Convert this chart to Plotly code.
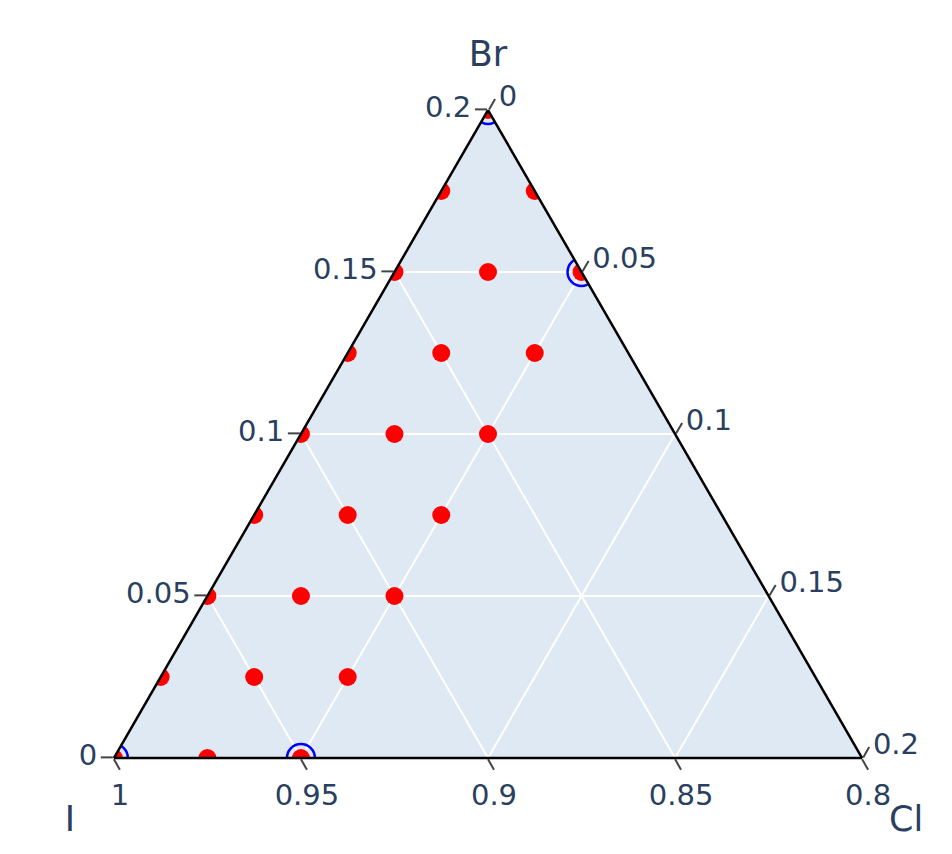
import plotly.graph_objects as go

# Red grid points (Br, I, Cl)
red_br = [0.0, 0.0, 0.0,
          0.025, 0.025, 0.025,
          0.05, 0.05, 0.05,
          0.075, 0.075, 0.075,
          0.1, 0.1, 0.1,
          0.125, 0.125, 0.125,
          0.15, 0.15, 0.15,
          0.175, 0.175,
          0.2]
red_cl = [0.0, 0.025, 0.05,
          0.0, 0.025, 0.05,
          0.0, 0.025, 0.05,
          0.0, 0.025, 0.05,
          0.0, 0.025, 0.05,
          0.0, 0.025, 0.05,
          0.0, 0.025, 0.05,
          0.0, 0.025,
          0.0]
red_i = [1.0, 0.975, 0.95,
         0.975, 0.95, 0.925,
         0.95, 0.925, 0.9,
         0.925, 0.9, 0.875,
         0.9, 0.875, 0.85,
         0.875, 0.85, 0.825,
         0.85, 0.825, 0.8,
         0.825, 0.8,
         0.8]

# Blue highlighted points
blue_br = [0.0, 0.0, 0.15, 0.2]
blue_i = [1.0, 0.95, 0.8, 0.8]
blue_cl = [0.0, 0.05, 0.05, 0.0]

fig = go.Figure()
fig.add_trace(go.Scatterternary(
    a=red_br, b=red_i, c=red_cl, mode="markers",
    marker=dict(color="red", size=18),
    showlegend=False,
))
fig.add_trace(go.Scatterternary(
    a=blue_br, b=blue_i, c=blue_cl, mode="markers",
    marker=dict(color="blue", size=28, symbol="circle-open", line=dict(width=2.5)),
    showlegend=False,
))

axis_common = dict(
    dtick=0.05, ticks="outside", ticklen=12, tickwidth=2, tickcolor="#444",
    linecolor="black", linewidth=2.5, showline=True,
    gridcolor="white", gridwidth=2,
    tickfont=dict(size=29),
)

fig.update_layout(
    width=952, height=854,
    font=dict(family="Verdana, DejaVu Sans, sans-serif", size=29, color="#2a3f5f"),
    paper_bgcolor="white",
    margin=dict(l=95, r=87, t=102, b=104),
    ternary=dict(
        sum=1,
        bgcolor="#dfe9f3",
        aaxis=dict(title=dict(text="Br", font=dict(size=35)), min=0, **axis_common),
        baxis=dict(title=dict(text="I", font=dict(size=35)), min=0.8, **axis_common),
        caxis=dict(title=dict(text="Cl", font=dict(size=35)), min=0, **axis_common),
    ),
)

fig.write_html("out.html")
